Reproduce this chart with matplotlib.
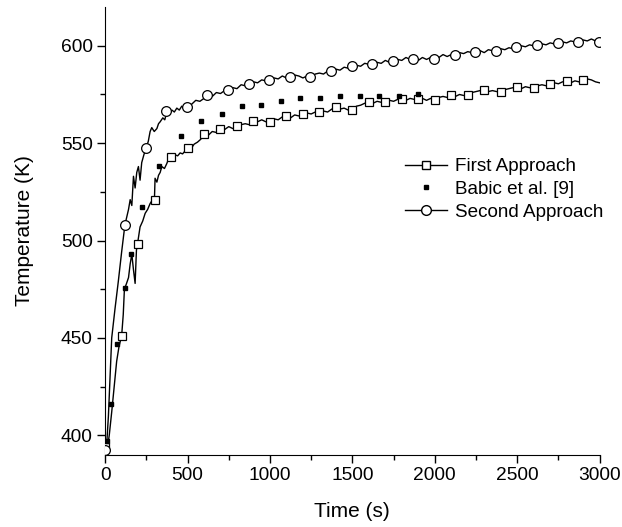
import matplotlib
matplotlib.use("Agg")
import matplotlib.pyplot as plt
from matplotlib.lines import Line2D
from matplotlib.ticker import MultipleLocator

plt.rcParams['font.family'] = ['Liberation Sans', 'DejaVu Sans']

# First Approach - simulated curve
t_first = [0, 15, 25, 40, 55, 70, 85, 100, 110, 117, 130, 142, 152, 162, 172, 182, 190, 196,
           212, 228, 243, 258, 273, 288, 299, 303, 314, 324, 334, 344, 360, 374, 385, 395,
           410, 425, 440, 455, 470, 485, 500, 520, 540, 560, 580, 600,
           625, 650, 675, 700, 725, 750, 775, 800, 825, 850, 875, 900, 925, 950, 975, 1000,
           1025, 1050, 1075, 1100, 1125, 1150, 1175, 1200, 1225, 1250, 1275, 1300, 1325, 1350,
           1375, 1400, 1425, 1450, 1475, 1500, 1525, 1550, 1575, 1600, 1625, 1650, 1675, 1700,
           1725, 1750, 1775, 1800, 1825, 1850, 1875, 1900, 1925, 1950, 1975, 2000, 2025, 2050,
           2075, 2100, 2125, 2150, 2175, 2200, 2225, 2250, 2275, 2300, 2325, 2350, 2375, 2400,
           2425, 2450, 2475, 2500, 2525, 2550, 2575, 2600, 2625, 2650, 2675, 2700, 2725, 2750,
           2775, 2800, 2825, 2850, 2875, 2900, 2925, 2950, 2975, 3000]
T_first = [392, 394, 400, 412, 425, 438, 446, 450.8, 462, 475, 478, 481, 488, 493, 485, 478, 495, 498,
           507, 510, 514, 516, 519, 521, 520.6, 532, 530, 533.5, 535, 538, 537, 539.5, 542, 543,
           542, 544, 543.5, 545, 544.5, 546, 547.5, 547, 549.5, 550.5, 552, 554.5,
           554, 556, 555.5, 557.4, 557, 558.5, 557.5, 558.8, 559.5, 560, 559.5, 561.2, 561, 562, 561, 561.2,
           562.5, 562, 563.5, 563.8, 563, 564.5, 564, 564.6, 565.5, 565, 566, 565.5, 566.5, 566,
           567.5, 568.5, 567.5, 568, 567, 567.2, 569, 569.5, 570.5, 571.1, 570.5, 571.5, 571, 571.1,
           572, 571.5, 572.5, 572.5, 572, 573, 572.5, 572.5, 573, 572, 573, 572, 573.5, 574,
           573.5, 574.5, 574, 575, 574.5, 574.5, 576, 576.5, 577, 577.5, 576.5, 577, 576.5, 576.2,
           577.5, 578, 578.5, 578.8, 578, 579, 578.5, 578.5, 579.5, 580, 579.5, 580.2, 581, 580.5,
           581.5, 581.7, 581, 582, 581.5, 582.2, 583, 582.5, 581.5, 581]

# First Approach - markers
t_first_mk = [0, 100, 200, 300, 400, 500, 600, 700, 800, 900, 1000, 1100, 1200, 1300, 1400,
              1500, 1600, 1700, 1800, 1900, 2000, 2100, 2200, 2300, 2400, 2500, 2600, 2700, 2800, 2900]
T_first_mk = [394, 450.8, 498, 520.6, 543, 547.5, 554.5, 557.4, 558.8, 561.2, 561, 564, 565, 566, 568.5,
              567, 571.1, 571.1, 572.6, 572.6, 572, 574.5, 574.5, 577.5, 576.2, 578.8, 578.5, 580.2, 581.7, 582.2]

# Babic et al. [9]
t_babic = [10, 38, 73, 121, 154, 226, 324, 461, 583, 708, 828, 945, 1066, 1182, 1304,
           1425, 1544, 1662, 1781, 1901]
T_babic = [397, 416, 446.7, 475.6, 493, 517, 538.2, 553.5, 561.2, 565.1, 569.2, 569.8, 571.6, 573, 573,
           574, 574.1, 574.3, 574.4, 575]

# Second Approach - simulated curve
t_second = [0, 10, 20, 30, 40, 60, 80, 100, 120, 142, 152, 162, 172, 182, 192, 202, 212, 222, 235,
            249, 262, 273, 283, 298, 314, 324, 334, 350, 362, 374, 390, 405, 420, 435, 450, 465,
            480, 496, 525, 550, 575, 600, 625, 650, 675, 700, 725, 750, 775, 800, 825, 850, 875,
            900, 925, 950, 975, 1000, 1025, 1050, 1075, 1100, 1125, 1150, 1175, 1200, 1225, 1250,
            1275, 1300, 1325, 1350, 1375, 1400, 1425, 1450, 1475, 1500, 1525, 1550, 1575, 1600,
            1625, 1650, 1675, 1700, 1725, 1750, 1775, 1800, 1825, 1850, 1875, 1900, 1925, 1950,
            1975, 2000, 2025, 2050, 2075, 2100, 2125, 2150, 2175, 2200, 2225, 2250, 2275, 2300,
            2325, 2350, 2375, 2400, 2425, 2450, 2475, 2500, 2525, 2550, 2575, 2600, 2625, 2650,
            2675, 2700, 2725, 2750, 2775, 2800, 2825, 2850, 2875, 2900, 2925, 2950, 2975, 3000]
T_second = [392, 396, 410, 430, 450, 465, 479, 494, 508, 516, 521, 518, 533, 527, 535, 538, 531, 540, 544,
            547.5, 551, 556, 558, 556, 557.5, 560, 561, 563, 562, 566, 565, 567, 566, 568, 567, 569,
            568, 568.5, 570, 572, 571.5, 573, 574.7, 574, 576, 575.5, 577, 577.5, 578.5, 578, 580, 579.5, 580.5,
            581.5, 581, 582.5, 582, 582.6, 583.5, 583, 584.5, 583.5, 584, 585, 584.5, 583.5, 584.5, 584,
            585.5, 586, 585.5, 587, 587, 588, 587.5, 589, 588.5, 589.4, 590, 589.5, 591, 590.5,
            590.8, 591.5, 591, 592.5, 591.5, 592.1, 593, 592.5, 594, 593, 593.4, 592.5, 594, 593,
            594, 593.4, 594, 595.5, 594.5, 595.5, 595.4, 596.5, 596, 597, 596.5, 597.1, 597.5, 596.5,
            598, 597.5, 597.6, 598.5, 598, 599, 598.5, 599.3, 600, 599.5, 600.5, 600, 600.2, 601,
            600.5, 601.5, 601, 601.4, 602, 601.5, 602.5, 602, 602.4, 603, 602.5, 603.5, 602.5, 602.5]

# Second Approach - markers
t_second_mk = [0, 120, 245, 370, 495, 620, 745, 870, 995, 1120, 1245, 1370, 1495, 1620, 1745,
               1870, 1995, 2120, 2245, 2370, 2495, 2620, 2745, 2870, 2995]
T_second_mk = [392.5, 508, 547.5, 566.3, 568.5, 574.7, 577.5, 580.5, 582.6, 584, 584, 586.9, 589.4, 590.8, 592.1,
               593.2, 593.4, 595.2, 596.9, 597.2, 599.5, 600.2, 601.4, 602, 602.2]


def main():
    fig = plt.figure(figsize=(6.22, 5.27), dpi=100)
    ax = fig.add_axes([0.169, 0.137, 0.795, 0.85])

    ax.plot(t_first, T_first, color='black', lw=1.0, zorder=2)
    ax.plot(t_first_mk, T_first_mk, ls='none', marker='s', ms=6, mfc='white', mec='black',
            mew=0.9, zorder=3)
    ax.plot(t_babic, T_babic, ls='none', marker='s', ms=3.2, color='black', zorder=4)
    ax.plot(t_second, T_second, color='black', lw=1.0, zorder=2)
    ax.plot(t_second_mk, T_second_mk, ls='none', marker='o', ms=7, mfc='white', mec='black',
            mew=0.9, zorder=3)

    ax.set_xlim(0, 3000)
    ax.set_ylim(390, 620)
    ax.xaxis.set_major_locator(MultipleLocator(500))
    ax.xaxis.set_minor_locator(MultipleLocator(250))
    ax.yaxis.set_minor_locator(MultipleLocator(25))
    ax.set_yticks([400, 450, 500, 550, 600])
    ax.tick_params(which='major', direction='out', length=5.5, width=1, labelsize=13.8)
    ax.tick_params(which='minor', direction='out', length=3.5, width=1)
    ax.spines['top'].set_visible(False)
    ax.spines['right'].set_visible(False)
    ax.set_xlabel('Time (s)', fontsize=15, labelpad=13)
    ax.set_ylabel('Temperature (K)', fontsize=15, labelpad=19)

    handles = [
        Line2D([], [], color='black', lw=1.0, marker='s', ms=6, mfc='white', mec='black'),
        Line2D([], [], ls='none', marker='s', ms=3.2, color='black'),
        Line2D([], [], color='black', lw=1.0, marker='o', ms=7, mfc='white', mec='black'),
    ]
    labels = ['First Approach', 'Babic et al. [9]', 'Second Approach']
    ax.legend(handles, labels, loc='upper left', bbox_to_anchor=(0.603, 0.667), frameon=False,
              fontsize=13.6, handlelength=2.2, handletextpad=0.42, labelspacing=0.3,
              borderaxespad=0, borderpad=0.1)

    fig.savefig('out.png', dpi=100)


if __name__ == "__main__":
    main()
